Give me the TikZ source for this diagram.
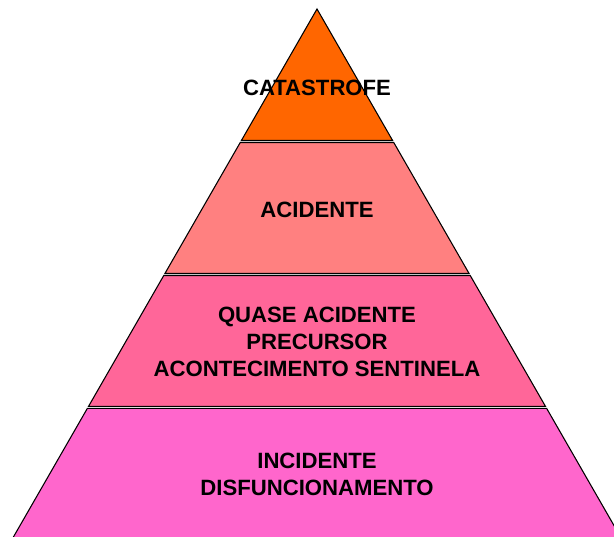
\documentclass[tikz,border=0pt]{standalone}
\usepackage{fontspec}
\setmainfont{Liberation Sans}
\usetikzlibrary{calc}
\definecolor{tiercatastrofe}{HTML}{FF6600}
\definecolor{tieracidente}{HTML}{FF8080}
\definecolor{tierquase}{HTML}{FF6699}
\definecolor{tierincidente}{HTML}{FF66CC}
\tikzset{line width=.75pt,
  band/.style={draw=black,line width=.8pt,line join=miter},
  tierlabel/.style={font=\bfseries\fontsize{16.6}{20.3}\selectfont,align=center,inner sep=0pt}}

\begin{document}
\begin{tikzpicture}[x=.75pt,y=-.75pt]
\useasboundingbox (0,0) rectangle (614,536);
\clip (0,0) rectangle (614,536);
% half width of the pyramid at height y, apex at (317,9)
\pgfmathdeclarefunction{halfw}{1}{\pgfmathparse{.575*(#1-9)}}
\foreach \ytop/\ybot/\tint in {9/140.5/tiercatastrofe,142.5/273.5/tieracidente,
  275.5/406.3/tierquase,408.3/560/tierincidente} {
 \pgfmathsetmacro{\wtop}{halfw(\ytop)}
 \pgfmathsetmacro{\wbot}{halfw(\ybot)}
 \filldraw[band,fill=\tint] (317-\wtop,\ytop)--(317+\wtop,\ytop)--(317+\wbot,\ybot)--(317-\wbot,\ybot)--cycle;}
\node[tierlabel] (catastrofe) at (317,88) {CATASTROFE};
\node[tierlabel] (acidente) at (317,209.5) {ACIDENTE};
\node[tierlabel] (quase) at (317,342) {QUASE ACIDENTE\\PRECURSOR\\ACONTECIMENTO SENTINELA};
\node[tierlabel] (incidente) at (317,474) {INCIDENTE\\DISFUNCIONAMENTO};
\end{tikzpicture}
\end{document}
